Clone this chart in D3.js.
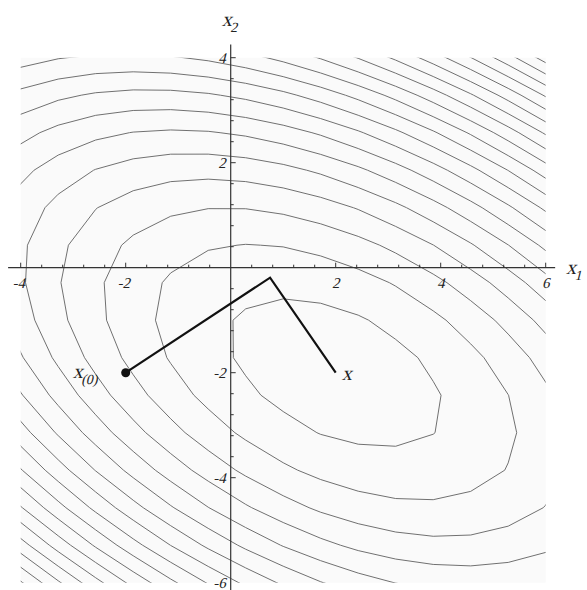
<!DOCTYPE html>
<html>
<head>
<meta charset="utf-8">
<script src="https://cdn.jsdelivr.net/npm/d3@7"></script>
<style>
  html, body { margin: 0; padding: 0; background: #fff; }
  svg { display: block; }
  svg text { font-family: "Liberation Serif", "DejaVu Serif", serif; font-style: normal; }
</style>
</head>
<body>
<svg id="chart" width="587" height="590"></svg>
<script>
// Quadratic form f(x) = 1/2 x^T A x - b^T x
const matrixA = [[3, 2], [2, 6]];
const vectorB = [2, -8];

// Contour levels of f
const contourLevels = [-5, 4, 13, 22, 31, 40, 49, 58, 67, 76, 85, 94, 103, 112, 121, 130, 139, 148, 157, 166];

// Iteration path: start x(0), intermediate step, solution x
const pathX = [-2, 0.75, 2];
const pathY = [-2, -0.19, -2];

// Axis tick labels
const xTickValues = [-4, -2, 2, 4, 6];
const yTickValues = [-6, -4, -2, 2, 4];

const plotX = [-4, 6], plotY = [-6, 4];   // contour region
const samples = 15;                         // sampling points per side

const svg = d3.select("#chart");
const xs = d3.scaleLinear().domain([-4, 6]).range([20.7, 545.7]);
const ys = d3.scaleLinear().domain([-6, 4]).range([582.7, 57.7]);

function f(x, y) {
  const ax = matrixA[0][0] * x + matrixA[0][1] * y;
  const ay = matrixA[1][0] * x + matrixA[1][1] * y;
  return 0.5 * (x * ax + y * ay) - (vectorB[0] * x + vectorB[1] * y);
}

// sampling grid, padded by one cell on each side so the edges get clipped away
const step = (plotX[1] - plotX[0]) / (samples - 1);
const n = samples + 2;
const x0 = plotX[0] - step, y0 = plotY[0] - step;
const values = new Array(n * n);
for (let j = 0; j < n; j++)
  for (let i = 0; i < n; i++)
    values[j * n + i] = f(x0 + i * step, y0 + j * step);

const contours = d3.contours().size([n, n]).thresholds(contourLevels)(values);

const proj = d3.geoTransform({
  point: function (c, r) {
    this.stream.point(xs(x0 + (c - 0.5) * step), ys(y0 + (r - 0.5) * step));
  }
});
const geo = d3.geoPath(proj);

svg.append("clipPath").attr("id", "region").append("rect")
  .attr("x", xs(plotX[0])).attr("y", ys(plotY[1]))
  .attr("width", xs(plotX[1]) - xs(plotX[0]))
  .attr("height", ys(plotY[0]) - ys(plotY[1]));

svg.append("rect")
  .attr("x", xs(plotX[0])).attr("y", ys(plotY[1]))
  .attr("width", xs(plotX[1]) - xs(plotX[0]))
  .attr("height", ys(plotY[0]) - ys(plotY[1]))
  .attr("fill", "#fafafa");

svg.append("g").attr("clip-path", "url(#region)")
  .selectAll("path").data(contours).join("path")
  .attr("d", geo)
  .attr("fill", "none")
  .attr("stroke", "#707070")
  .attr("stroke-width", 1);

// Axes through the origin
const axisG = svg.append("g").attr("stroke", "#333").attr("stroke-width", 1.2);
axisG.append("line")
  .attr("x1", xs(-4.24)).attr("x2", xs(6.18))
  .attr("y1", ys(0)).attr("y2", ys(0));
axisG.append("line")
  .attr("x1", xs(0)).attr("x2", xs(0))
  .attr("y1", ys(4.25)).attr("y2", ys(-6.3));

const minor = d3.range(-10, 16).map(k => k * 0.4);
const isMajor = v => Math.abs(v / 2 - Math.round(v / 2)) < 1e-6;

const tickG = svg.append("g").attr("stroke", "#333").attr("stroke-width", 1);
minor.filter(v => v >= -4.01 && v <= 6.01 && Math.abs(v) > 1e-6).forEach(v => {
  const len = isMajor(v) ? 5 : 3;
  tickG.append("line").attr("x1", xs(v)).attr("x2", xs(v))
    .attr("y1", ys(0)).attr("y2", ys(0) - len);
});
minor.filter(v => v >= -6.01 && v <= 4.01 && Math.abs(v) > 1e-6).forEach(v => {
  const len = isMajor(v) ? 5 : 3;
  tickG.append("line").attr("y1", ys(v)).attr("y2", ys(v))
    .attr("x1", xs(0)).attr("x2", xs(0) + len);
});

// slanted serif text placed at (x, y)
function slanted(parent, x, y, size) {
  return parent.append("text")
    .attr("transform", `translate(${x},${y}) skewX(-14)`)
    .attr("fill", "#222")
    .style("font-size", size + "px");
}

xTickValues.forEach(d => {
  slanted(svg, xs(d) - (d < 0 ? 2 : 0), ys(0) + 20, 15)
    .attr("text-anchor", "middle").text(d);
});
yTickValues.forEach(d => {
  slanted(svg, xs(0) - 5, ys(d) + 5, 15)
    .attr("text-anchor", "end").text(d);
});

// Labels with subscripts
function subLabel(x, y, main, sub, size) {
  const t = slanted(svg, x, y, size);
  t.append("tspan").text(main);
  t.append("tspan").attr("dy", size * 0.3).style("font-size", (size * 0.7) + "px").text(sub);
  return t;
}
subLabel(xs(0) - 9, 26, "x", "2", 20);
subLabel(566, ys(0) + 6, "x", "1", 20);

// Iteration path
const pts = pathX.map((x, i) => [x, pathY[i]]);
svg.append("path")
  .attr("d", d3.line().x(d => xs(d[0])).y(d => ys(d[1]))(pts))
  .attr("fill", "none")
  .attr("stroke", "#111")
  .attr("stroke-width", 2.2)
  .attr("stroke-linejoin", "miter");

svg.append("circle")
  .attr("cx", xs(pathX[0])).attr("cy", ys(pathY[0]))
  .attr("r", 4.5).attr("fill", "#111");

subLabel(xs(pathX[0]) - 53, ys(pathY[0]) + 5, "x", "(0)", 20);
slanted(svg, xs(pathX[2]) + 6, ys(pathY[2]) + 7, 20).text("x");
</script>
</body>
</html>
